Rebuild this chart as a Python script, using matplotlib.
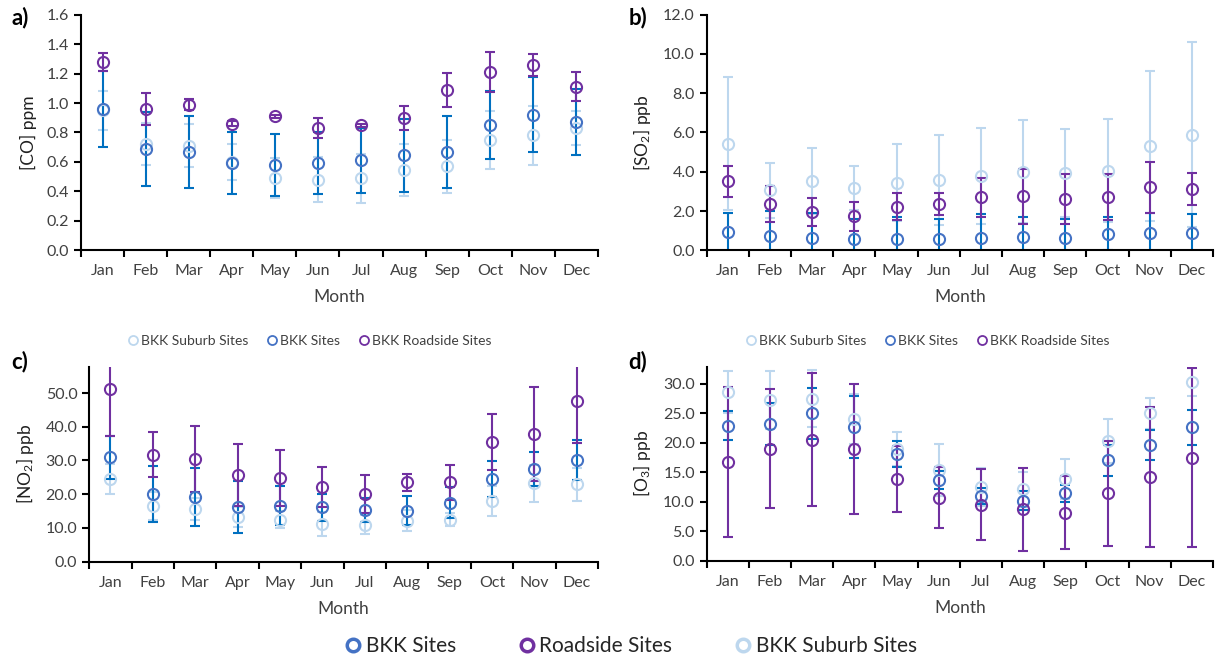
import matplotlib
matplotlib.use('Agg')
import numpy as np
import matplotlib.pyplot as plt
from matplotlib.lines import Line2D

plt.rcParams['font.family'] = ['Lato', 'DejaVu Sans']
plt.rcParams['mathtext.default'] = 'regular'

months = ['Jan', 'Feb', 'Mar', 'Apr', 'May', 'Jun', 'Jul', 'Aug', 'Sep', 'Oct', 'Nov', 'Dec']

# a) CO ppm
co_suburb = [0.95, 0.72, 0.71, 0.60, 0.49, 0.48, 0.49, 0.545, 0.57, 0.75, 0.78, 0.83]
co_suburb_err = [0.13, 0.143, 0.145, 0.124, 0.137, 0.153, 0.167, 0.179, 0.181, 0.195, 0.20, 0.117]
co_bkk = [0.96, 0.69, 0.67, 0.59, 0.58, 0.59, 0.61, 0.645, 0.67, 0.85, 0.92, 0.87]
co_bkk_err = [0.26, 0.25, 0.245, 0.21, 0.21, 0.21, 0.22, 0.25, 0.245, 0.23, 0.255, 0.224]
co_road = [1.28, 0.96, 0.99, 0.86, 0.91, 0.83, 0.85, 0.90, 1.09, 1.21, 1.26, 1.11]
co_road_err = [0.062, 0.11, 0.035, 0.015, 0.01, 0.068, 0.01, 0.083, 0.117, 0.138, 0.075, 0.098]

# b) SO2 ppb
so2_suburb = [5.43, 3.06, 3.53, 3.16, 3.45, 3.58, 3.77, 4.01, 3.94, 4.06, 5.30, 5.89]
so2_suburb_err = [3.38, 1.40, 1.66, 1.12, 1.98, 2.28, 2.44, 2.61, 2.22, 2.61, 3.83, 4.70]
so2_bkk = [0.95, 0.71, 0.64, 0.56, 0.56, 0.56, 0.61, 0.66, 0.64, 0.85, 0.90, 0.87]
so2_bkk_err = [0.97, 1.29, 1.27, 1.05, 1.12, 1.04, 1.22, 1.04, 0.96, 0.85, 1.0, 0.96]
so2_road = [3.51, 2.38, 1.95, 1.73, 2.21, 2.38, 2.70, 2.75, 2.61, 2.70, 3.21, 3.12]
so2_road_err = [0.78, 0.92, 0.71, 0.73, 0.69, 0.56, 1.0, 1.41, 1.26, 1.17, 1.29, 0.83]

# c) NO2 ppb
no2_suburb = [24.5, 16.5, 15.7, 13.3, 12.5, 11.1, 11.0, 12.2, 12.5, 18.0, 23.2, 22.9]
no2_suburb_err = [4.4, 4.1, 3.2, 3.0, 2.6, 3.6, 2.9, 3.0, 2.0, 4.5, 5.5, 4.9]
no2_bkk = [30.9, 20.0, 19.2, 16.1, 16.6, 16.2, 15.3, 15.1, 17.5, 24.6, 27.5, 30.2]
no2_bkk_err = [6.4, 8.3, 8.7, 7.7, 5.8, 4.0, 3.5, 4.3, 4.6, 5.3, 5.0, 6.0]
no2_road = [51.2, 31.7, 30.4, 25.7, 24.8, 22.2, 20.0, 23.6, 23.6, 35.6, 37.9, 47.5]
no2_road_err = [13.9, 6.7, 9.8, 9.2, 8.2, 5.9, 5.7, 2.5, 5.2, 8.3, 14.0, 12.2]

# d) O3 ppb
o3_suburb = [28.6, 27.3, 27.5, 24.0, 18.9, 15.4, 12.5, 12.1, 13.8, 20.3, 25.0, 30.3]
o3_suburb_err = [3.6, 4.9, 4.8, 4.2, 2.9, 4.4, 3.3, 3.0, 3.4, 3.8, 2.6, 2.4]
o3_bkk = [22.9, 23.2, 25.0, 22.7, 18.1, 13.7, 11.0, 10.2, 11.4, 17.0, 19.6, 22.6]
o3_bkk_err = [2.5, 3.6, 4.3, 5.2, 2.2, 1.5, 1.4, 1.6, 1.5, 2.7, 2.6, 3.0]
o3_road = [16.8, 19.0, 20.5, 19.0, 13.8, 10.7, 9.5, 8.7, 8.1, 11.4, 14.2, 17.5]
o3_road_err = [12.7, 10.1, 11.3, 11.0, 5.6, 5.2, 6.0, 7.0, 6.2, 8.9, 11.8, 15.2]

C_SUB = '#BDD7EE'
C_BKK = '#4472C4'
C_BKK_BAR = '#0070C0'
C_ROAD = '#7030A0'
TXT = '#404040'

W, H = 1215, 662
fig = plt.figure(figsize=(W / 100, H / 100), dpi=100)


def px_axes(left, top, right, bottom):
    return fig.add_axes([left / W, 1 - bottom / H, (right - left) / W, (bottom - top) / H])


def panel(ax, series, ymax, yticks, ylabel):
    x = np.arange(1, 13)
    for mean, err, mc, ec in series:
        ax.errorbar(x, mean, yerr=err, fmt='o', mfc='none', mec=mc, mew=1.5, ms=8,
                    ecolor=ec, elinewidth=1.5, capsize=3.5, capthick=1.5)
    ax.set_xlim(0.5, 12.5)
    ax.set_ylim(0, ymax)
    ax.set_yticks(yticks)
    ax.set_yticklabels(['%.1f' % t for t in yticks])
    ax.set_xticks(x)
    ax.set_xticklabels(months)
    ax.set_xticks(np.arange(0.5, 13), minor=True)
    ax.tick_params(axis='x', which='major', length=0, pad=10, labelsize=11.5, labelcolor=TXT)
    ax.tick_params(axis='x', which='minor', length=5, width=1.5, direction='out')
    ax.tick_params(axis='y', length=5, width=1.5, direction='out', labelsize=11.5, labelcolor=TXT)
    for s in ['top', 'right']:
        ax.spines[s].set_visible(False)
    for s in ['left', 'bottom']:
        ax.spines[s].set_linewidth(1.5)
    ax.set_xlabel('Month', fontsize=12.5, color=TXT, labelpad=8)
    ax.set_ylabel(ylabel, fontsize=12.5, color='#202020', labelpad=7)


ax_a = px_axes(81, 14.7, 598, 250.3)
panel(ax_a, [(co_suburb, co_suburb_err, C_SUB, C_SUB),
             (co_bkk, co_bkk_err, C_BKK, C_BKK_BAR),
             (co_road, co_road_err, C_ROAD, C_ROAD)],
      1.6, np.arange(0, 1.61, 0.2), '[CO] ppm')

ax_b = px_axes(706.7, 14.7, 1213, 250.3)
panel(ax_b, [(so2_suburb, so2_suburb_err, C_SUB, C_SUB),
             (so2_bkk, so2_bkk_err, C_BKK, C_BKK_BAR),
             (so2_road, so2_road_err, C_ROAD, C_ROAD)],
      12.0, np.arange(0, 12.1, 2.0), '[SO$_2$] ppb')

ax_c = px_axes(89.3, 366.7, 598, 561.7)
panel(ax_c, [(no2_suburb, no2_suburb_err, C_SUB, C_SUB),
             (no2_bkk, no2_bkk_err, C_BKK, C_BKK_BAR),
             (no2_road, no2_road_err, C_ROAD, C_ROAD)],
      57.8, np.arange(0, 50.1, 10.0), '[NO$_2$] ppb')

ax_d = px_axes(706.7, 366.7, 1213, 560.7)
panel(ax_d, [(o3_suburb, o3_suburb_err, C_SUB, C_SUB),
             (o3_bkk, o3_bkk_err, C_BKK, C_BKK_BAR),
             (o3_road, o3_road_err, C_ROAD, C_ROAD)],
      32.9, np.arange(0, 30.1, 5.0), '[O$_3$] ppb')

for lab, xp, yp in [('a)', 20, 18), ('b)', 638, 18), ('c)', 20, 362), ('d)', 638, 362)]:
    fig.text(xp / W, 1 - yp / H, lab, fontsize=16, fontweight='bold', ha='center', va='center')


def handle(c, mew=1.3, ms=6.5):
    return Line2D([], [], ls='none', marker='o', mfc='none', mec=c, mew=mew, ms=ms)


small = [handle(C_SUB), handle(C_BKK), handle(C_ROAD)]
small_labels = ['BKK Suburb Sites', 'BKK Sites', 'BKK Roadside Sites']
for cx in [310, 928]:
    fig.legend(small, small_labels, loc='center', bbox_to_anchor=(cx / W, 1 - 340.7 / H),
               ncol=3, frameon=False, fontsize=10, handlelength=0.6, handletextpad=0.3,
               columnspacing=1.4, labelcolor=TXT)

big = [handle(C_BKK, 2.5, 9), handle(C_ROAD, 2.5, 9), handle(C_SUB, 2.5, 9)]
fig.legend(big, ['BKK Sites', 'Roadside Sites', 'BKK Suburb Sites'], loc='center',
           bbox_to_anchor=(632 / W, 1 - 646 / H), ncol=3, frameon=False, fontsize=15,
           handlelength=0.6, handletextpad=0.3, columnspacing=3.1, labelcolor='#262626')

plt.savefig('out.png', dpi=100)
